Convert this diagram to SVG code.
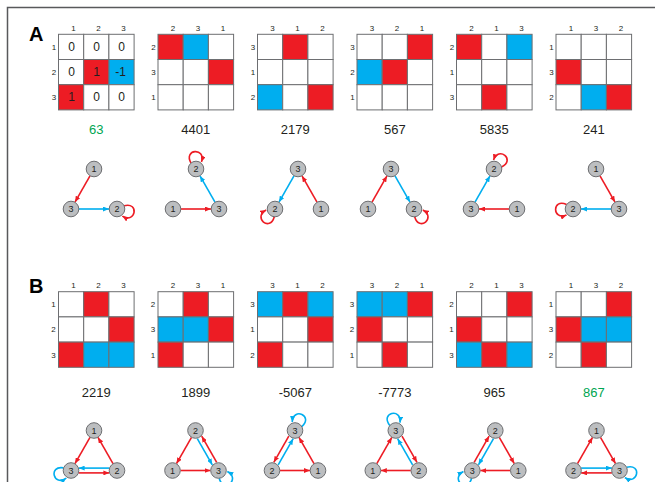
<svg xmlns="http://www.w3.org/2000/svg" xmlns:xlink="http://www.w3.org/1999/xlink" width="655" height="482" viewBox="0 0 655 482">
<style>
.frame{stroke:#58595b;stroke-width:1.5;fill:none}
.cw{fill:#fff;stroke:#6d6e71;stroke-width:1}
.cr{fill:#ED1C24;stroke:#6d6e71;stroke-width:1}
.cb{fill:#00AEEF;stroke:#6d6e71;stroke-width:1}
.lbl{font-family:"Liberation Sans",Arial,sans-serif;font-size:8px;fill:#231f20;text-anchor:middle}
.val{font-family:"Liberation Sans",Arial,sans-serif;font-size:12px;fill:#231f20;text-anchor:middle}
.num{font-family:"Liberation Sans",Arial,sans-serif;font-size:13px;fill:#231f20;text-anchor:middle}
.green{fill:#00A651}
.panel{font-family:"Liberation Sans",Arial,sans-serif;font-size:20px;font-weight:bold;fill:#000}
.node circle{fill:#BCBEC0;stroke:#6d6e71;stroke-width:1}
.node text{font-family:"Liberation Sans",Arial,sans-serif;font-size:9px;fill:#231f20;text-anchor:middle}
.er{fill:none;stroke:#ED1C24;stroke-width:1.6;marker-end:url(#ar)}
.eb{fill:none;stroke:#00AEEF;stroke-width:1.6;marker-end:url(#ab)}
</style>
<defs>
<marker id="ar" markerUnits="userSpaceOnUse" markerWidth="6" markerHeight="5" refX="6" refY="2.5" orient="auto"><path d="M0,0 L6,2.5 L0,5 z" fill="#ED1C24"/></marker>
<marker id="ab" markerUnits="userSpaceOnUse" markerWidth="6" markerHeight="5" refX="6" refY="2.5" orient="auto"><path d="M0,0 L6,2.5 L0,5 z" fill="#00AEEF"/></marker>
</defs>
<path class="frame" d="M7.5,482 L7.5,7.5 L655,7.5"/>
<text class="panel" x="29" y="41">A</text>
<text class="panel" x="29" y="293">B</text>

<!-- Panel A matrices -->
<g id="matA1" transform="translate(58.5,34.3)">
<rect class="cw" x="0" y="0" width="25.2" height="25.2"/><rect class="cw" x="25.2" y="0" width="25.2" height="25.2"/><rect class="cw" x="50.4" y="0" width="25.2" height="25.2"/>
<rect class="cw" x="0" y="25.2" width="25.2" height="25.2"/><rect class="cr" x="25.2" y="25.2" width="25.2" height="25.2"/><rect class="cb" x="50.4" y="25.2" width="25.2" height="25.2"/>
<rect class="cr" x="0" y="50.4" width="25.2" height="25.2"/><rect class="cw" x="25.2" y="50.4" width="25.2" height="25.2"/><rect class="cw" x="50.4" y="50.4" width="25.2" height="25.2"/>
<text class="val" x="13" y="17">0</text><text class="val" x="38" y="17">0</text><text class="val" x="63" y="17">0</text>
<text class="val" x="13" y="42">0</text><text class="val" x="38" y="42">1</text><text class="val" x="62" y="42">-1</text>
<text class="val" x="13" y="67">1</text><text class="val" x="38" y="67">0</text><text class="val" x="63" y="67">0</text>
<text class="lbl" x="15" y="-3">1</text><text class="lbl" x="40" y="-3">2</text><text class="lbl" x="65" y="-3">3</text>
<text class="lbl" x="-4.5" y="15.5">1</text><text class="lbl" x="-4.5" y="40.7">2</text><text class="lbl" x="-4.5" y="65.9">3</text>
</g>
<g id="matA2" transform="translate(158,34.3)">
<rect class="cr" x="0" y="0" width="25.2" height="25.2"/><rect class="cb" x="25.2" y="0" width="25.2" height="25.2"/><rect class="cw" x="50.4" y="0" width="25.2" height="25.2"/>
<rect class="cw" x="0" y="25.2" width="25.2" height="25.2"/><rect class="cw" x="25.2" y="25.2" width="25.2" height="25.2"/><rect class="cr" x="50.4" y="25.2" width="25.2" height="25.2"/>
<rect class="cw" x="0" y="50.4" width="25.2" height="25.2"/><rect class="cw" x="25.2" y="50.4" width="25.2" height="25.2"/><rect class="cw" x="50.4" y="50.4" width="25.2" height="25.2"/>
<text class="lbl" x="15" y="-3">2</text><text class="lbl" x="40" y="-3">3</text><text class="lbl" x="65" y="-3">1</text>
<text class="lbl" x="-4.5" y="15.5">2</text><text class="lbl" x="-4.5" y="40.7">3</text><text class="lbl" x="-4.5" y="65.9">1</text>
</g>
<g id="matA3" transform="translate(257.5,34.3)">
<rect class="cw" x="0" y="0" width="25.2" height="25.2"/><rect class="cr" x="25.2" y="0" width="25.2" height="25.2"/><rect class="cw" x="50.4" y="0" width="25.2" height="25.2"/>
<rect class="cw" x="0" y="25.2" width="25.2" height="25.2"/><rect class="cw" x="25.2" y="25.2" width="25.2" height="25.2"/><rect class="cw" x="50.4" y="25.2" width="25.2" height="25.2"/>
<rect class="cb" x="0" y="50.4" width="25.2" height="25.2"/><rect class="cw" x="25.2" y="50.4" width="25.2" height="25.2"/><rect class="cr" x="50.4" y="50.4" width="25.2" height="25.2"/>
<text class="lbl" x="15" y="-3">3</text><text class="lbl" x="40" y="-3">1</text><text class="lbl" x="65" y="-3">2</text>
<text class="lbl" x="-4.5" y="15.5">3</text><text class="lbl" x="-4.5" y="40.7">1</text><text class="lbl" x="-4.5" y="65.9">2</text>
</g>
<g id="matA4" transform="translate(357,34.3)">
<rect class="cw" x="0" y="0" width="25.2" height="25.2"/><rect class="cw" x="25.2" y="0" width="25.2" height="25.2"/><rect class="cr" x="50.4" y="0" width="25.2" height="25.2"/>
<rect class="cb" x="0" y="25.2" width="25.2" height="25.2"/><rect class="cr" x="25.2" y="25.2" width="25.2" height="25.2"/><rect class="cw" x="50.4" y="25.2" width="25.2" height="25.2"/>
<rect class="cw" x="0" y="50.4" width="25.2" height="25.2"/><rect class="cw" x="25.2" y="50.4" width="25.2" height="25.2"/><rect class="cw" x="50.4" y="50.4" width="25.2" height="25.2"/>
<text class="lbl" x="15" y="-3">3</text><text class="lbl" x="40" y="-3">2</text><text class="lbl" x="65" y="-3">1</text>
<text class="lbl" x="-4.5" y="15.5">3</text><text class="lbl" x="-4.5" y="40.7">2</text><text class="lbl" x="-4.5" y="65.9">1</text>
</g>
<g id="matA5" transform="translate(456.5,34.3)">
<rect class="cr" x="0" y="0" width="25.2" height="25.2"/><rect class="cw" x="25.2" y="0" width="25.2" height="25.2"/><rect class="cb" x="50.4" y="0" width="25.2" height="25.2"/>
<rect class="cw" x="0" y="25.2" width="25.2" height="25.2"/><rect class="cw" x="25.2" y="25.2" width="25.2" height="25.2"/><rect class="cw" x="50.4" y="25.2" width="25.2" height="25.2"/>
<rect class="cw" x="0" y="50.4" width="25.2" height="25.2"/><rect class="cr" x="25.2" y="50.4" width="25.2" height="25.2"/><rect class="cw" x="50.4" y="50.4" width="25.2" height="25.2"/>
<text class="lbl" x="15" y="-3">2</text><text class="lbl" x="40" y="-3">1</text><text class="lbl" x="65" y="-3">3</text>
<text class="lbl" x="-4.5" y="15.5">2</text><text class="lbl" x="-4.5" y="40.7">1</text><text class="lbl" x="-4.5" y="65.9">3</text>
</g>
<g id="matA6" transform="translate(556,34.3)">
<rect class="cw" x="0" y="0" width="25.2" height="25.2"/><rect class="cw" x="25.2" y="0" width="25.2" height="25.2"/><rect class="cw" x="50.4" y="0" width="25.2" height="25.2"/>
<rect class="cr" x="0" y="25.2" width="25.2" height="25.2"/><rect class="cw" x="25.2" y="25.2" width="25.2" height="25.2"/><rect class="cw" x="50.4" y="25.2" width="25.2" height="25.2"/>
<rect class="cw" x="0" y="50.4" width="25.2" height="25.2"/><rect class="cb" x="25.2" y="50.4" width="25.2" height="25.2"/><rect class="cr" x="50.4" y="50.4" width="25.2" height="25.2"/>
<text class="lbl" x="15" y="-3">1</text><text class="lbl" x="40" y="-3">3</text><text class="lbl" x="65" y="-3">2</text>
<text class="lbl" x="-4.5" y="15.5">1</text><text class="lbl" x="-4.5" y="40.7">3</text><text class="lbl" x="-4.5" y="65.9">2</text>
</g>
<g id="numsA">
<text class="num green" x="96.3" y="134">63</text>
<text class="num" x="195.8" y="134">4401</text>
<text class="num" x="295.3" y="134">2179</text>
<text class="num" x="394.8" y="134">567</text>
<text class="num" x="494.3" y="134">5835</text>
<text class="num" x="593.8" y="134">241</text>
</g>

<!-- Panel B matrices -->
<g id="matB1" transform="translate(58.5,291.7)">
<rect class="cw" x="0" y="0" width="25.2" height="25.2"/><rect class="cr" x="25.2" y="0" width="25.2" height="25.2"/><rect class="cw" x="50.4" y="0" width="25.2" height="25.2"/>
<rect class="cw" x="0" y="25.2" width="25.2" height="25.2"/><rect class="cw" x="25.2" y="25.2" width="25.2" height="25.2"/><rect class="cr" x="50.4" y="25.2" width="25.2" height="25.2"/>
<rect class="cr" x="0" y="50.4" width="25.2" height="25.2"/><rect class="cb" x="25.2" y="50.4" width="25.2" height="25.2"/><rect class="cb" x="50.4" y="50.4" width="25.2" height="25.2"/>
<text class="lbl" x="15" y="-4">1</text><text class="lbl" x="40" y="-4">2</text><text class="lbl" x="65" y="-4">3</text>
<text class="lbl" x="-5" y="15.5">1</text><text class="lbl" x="-5" y="40.7">2</text><text class="lbl" x="-5" y="65.9">3</text>
</g>
<g id="matB2" transform="translate(158,291.7)">
<rect class="cw" x="0" y="0" width="25.2" height="25.2"/><rect class="cr" x="25.2" y="0" width="25.2" height="25.2"/><rect class="cw" x="50.4" y="0" width="25.2" height="25.2"/>
<rect class="cb" x="0" y="25.2" width="25.2" height="25.2"/><rect class="cb" x="25.2" y="25.2" width="25.2" height="25.2"/><rect class="cr" x="50.4" y="25.2" width="25.2" height="25.2"/>
<rect class="cr" x="0" y="50.4" width="25.2" height="25.2"/><rect class="cw" x="25.2" y="50.4" width="25.2" height="25.2"/><rect class="cw" x="50.4" y="50.4" width="25.2" height="25.2"/>
<text class="lbl" x="15" y="-4">2</text><text class="lbl" x="40" y="-4">3</text><text class="lbl" x="65" y="-4">1</text>
<text class="lbl" x="-5" y="15.5">2</text><text class="lbl" x="-5" y="40.7">3</text><text class="lbl" x="-5" y="65.9">1</text>
</g>
<g id="matB3" transform="translate(257.5,291.7)">
<rect class="cb" x="0" y="0" width="25.2" height="25.2"/><rect class="cr" x="25.2" y="0" width="25.2" height="25.2"/><rect class="cb" x="50.4" y="0" width="25.2" height="25.2"/>
<rect class="cw" x="0" y="25.2" width="25.2" height="25.2"/><rect class="cw" x="25.2" y="25.2" width="25.2" height="25.2"/><rect class="cr" x="50.4" y="25.2" width="25.2" height="25.2"/>
<rect class="cr" x="0" y="50.4" width="25.2" height="25.2"/><rect class="cw" x="25.2" y="50.4" width="25.2" height="25.2"/><rect class="cw" x="50.4" y="50.4" width="25.2" height="25.2"/>
<text class="lbl" x="15" y="-4">3</text><text class="lbl" x="40" y="-4">1</text><text class="lbl" x="65" y="-4">2</text>
<text class="lbl" x="-5" y="15.5">3</text><text class="lbl" x="-5" y="40.7">1</text><text class="lbl" x="-5" y="65.9">2</text>
</g>
<g id="matB4" transform="translate(357,291.7)">
<rect class="cb" x="0" y="0" width="25.2" height="25.2"/><rect class="cb" x="25.2" y="0" width="25.2" height="25.2"/><rect class="cr" x="50.4" y="0" width="25.2" height="25.2"/>
<rect class="cr" x="0" y="25.2" width="25.2" height="25.2"/><rect class="cw" x="25.2" y="25.2" width="25.2" height="25.2"/><rect class="cw" x="50.4" y="25.2" width="25.2" height="25.2"/>
<rect class="cw" x="0" y="50.4" width="25.2" height="25.2"/><rect class="cr" x="25.2" y="50.4" width="25.2" height="25.2"/><rect class="cw" x="50.4" y="50.4" width="25.2" height="25.2"/>
<text class="lbl" x="15" y="-4">3</text><text class="lbl" x="40" y="-4">2</text><text class="lbl" x="65" y="-4">1</text>
<text class="lbl" x="-5" y="15.5">3</text><text class="lbl" x="-5" y="40.7">2</text><text class="lbl" x="-5" y="65.9">1</text>
</g>
<g id="matB5" transform="translate(456.5,291.7)">
<rect class="cw" x="0" y="0" width="25.2" height="25.2"/><rect class="cw" x="25.2" y="0" width="25.2" height="25.2"/><rect class="cr" x="50.4" y="0" width="25.2" height="25.2"/>
<rect class="cr" x="0" y="25.2" width="25.2" height="25.2"/><rect class="cw" x="25.2" y="25.2" width="25.2" height="25.2"/><rect class="cw" x="50.4" y="25.2" width="25.2" height="25.2"/>
<rect class="cb" x="0" y="50.4" width="25.2" height="25.2"/><rect class="cr" x="25.2" y="50.4" width="25.2" height="25.2"/><rect class="cb" x="50.4" y="50.4" width="25.2" height="25.2"/>
<text class="lbl" x="15" y="-4">2</text><text class="lbl" x="40" y="-4">1</text><text class="lbl" x="65" y="-4">3</text>
<text class="lbl" x="-5" y="15.5">2</text><text class="lbl" x="-5" y="40.7">1</text><text class="lbl" x="-5" y="65.9">3</text>
</g>
<g id="matB6" transform="translate(556,291.7)">
<rect class="cw" x="0" y="0" width="25.2" height="25.2"/><rect class="cw" x="25.2" y="0" width="25.2" height="25.2"/><rect class="cr" x="50.4" y="0" width="25.2" height="25.2"/>
<rect class="cr" x="0" y="25.2" width="25.2" height="25.2"/><rect class="cb" x="25.2" y="25.2" width="25.2" height="25.2"/><rect class="cb" x="50.4" y="25.2" width="25.2" height="25.2"/>
<rect class="cw" x="0" y="50.4" width="25.2" height="25.2"/><rect class="cr" x="25.2" y="50.4" width="25.2" height="25.2"/><rect class="cw" x="50.4" y="50.4" width="25.2" height="25.2"/>
<text class="lbl" x="15" y="-4">1</text><text class="lbl" x="40" y="-4">3</text><text class="lbl" x="65" y="-4">2</text>
<text class="lbl" x="-5" y="15.5">1</text><text class="lbl" x="-5" y="40.7">3</text><text class="lbl" x="-5" y="65.9">2</text>
</g>
<g id="numsB">
<text class="num" x="96.3" y="396.5">2219</text>
<text class="num" x="195.8" y="396.5">1899</text>
<text class="num" x="295.3" y="396.5">-5067</text>
<text class="num" x="394.8" y="396.5">-7773</text>
<text class="num" x="494.3" y="396.5">965</text>
<text class="num green" x="593.8" y="396.5">867</text>
</g>

<!-- Panel A graphs -->
<g id="graphA1" transform="translate(94,189)">
<g class="connectors">
<path class="er" d="M-4,-13.1 L-19,13.1"/>
<path class="eb" d="M-15,20 L15,20"/>
<path class="er" d="M6,-5 C20,-13 22,10 7,5.5" transform="translate(23,20) rotate(15)"/>
</g>
<g id="a1-n1" class="node"><circle cx="0" cy="-20" r="7.8"/><text x="0" y="-16.8">1</text></g>
<g id="a1-n3" class="node"><circle cx="-23" cy="20" r="7.8"/><text x="-23" y="23.2">3</text></g>
<g id="a1-n2" class="node"><circle cx="23" cy="20" r="7.8"/><text x="23" y="23.2">2</text></g>
</g>
<g id="graphA2" transform="translate(196,189)">
<g class="connectors">
<path class="er" d="M-15,20 L15,20"/>
<path class="eb" d="M19,13.1 L4,-13.1"/>
<path class="er" d="M6,-5 C20,-13 22,10 7,5.5" transform="translate(0,-20) rotate(-90)"/>
</g>
<g id="a2-n2" class="node"><circle cx="0" cy="-20" r="7.8"/><text x="0" y="-16.8">2</text></g>
<g id="a2-n1" class="node"><circle cx="-23" cy="20" r="7.8"/><text x="-23" y="23.2">1</text></g>
<g id="a2-n3" class="node"><circle cx="23" cy="20" r="7.8"/><text x="23" y="23.2">3</text></g>
</g>
<g id="graphA3" transform="translate(298,189)">
<g class="connectors">
<path class="er" d="M19,13.1 L4,-13.1"/>
<path class="eb" d="M-4,-13.1 L-19,13.1"/>
<path class="er" d="M6,-5 C20,-13 22,10 7,5.5" transform="translate(-23,20) rotate(135)"/>
</g>
<g id="a3-n3" class="node"><circle cx="0" cy="-20" r="7.8"/><text x="0" y="-16.8">3</text></g>
<g id="a3-n2" class="node"><circle cx="-23" cy="20" r="7.8"/><text x="-23" y="23.2">2</text></g>
<g id="a3-n1" class="node"><circle cx="23" cy="20" r="7.8"/><text x="23" y="23.2">1</text></g>
</g>
<g id="graphA4" transform="translate(391,189)">
<g class="connectors">
<path class="er" d="M-19,13.1 L-4,-13.1"/>
<path class="eb" d="M4,-13.1 L19,13.1"/>
<path class="er" d="M6,5 C20,13 22,-10 7,-5.5" transform="translate(23,20) rotate(45)"/>
</g>
<g id="a4-n3" class="node"><circle cx="0" cy="-20" r="7.8"/><text x="0" y="-16.8">3</text></g>
<g id="a4-n1" class="node"><circle cx="-23" cy="20" r="7.8"/><text x="-23" y="23.2">1</text></g>
<g id="a4-n2" class="node"><circle cx="23" cy="20" r="7.8"/><text x="23" y="23.2">2</text></g>
</g>
<g id="graphA5" transform="translate(494,189)">
<g class="connectors">
<path class="er" d="M15,20 L-15,20"/>
<path class="eb" d="M-19,13.1 L-4,-13.1"/>
<path class="er" d="M6,5 C20,13 22,-10 7,-5.5" transform="translate(0,-20) rotate(-55)"/>
</g>
<g id="a5-n2" class="node"><circle cx="0" cy="-20" r="7.8"/><text x="0" y="-16.8">2</text></g>
<g id="a5-n3" class="node"><circle cx="-23" cy="20" r="7.8"/><text x="-23" y="23.2">3</text></g>
<g id="a5-n1" class="node"><circle cx="23" cy="20" r="7.8"/><text x="23" y="23.2">1</text></g>
</g>
<g id="graphA6" transform="translate(596,189)">
<g class="connectors">
<path class="er" d="M4,-13.1 L19,13.1"/>
<path class="eb" d="M15,20 L-15,20"/>
<path class="er" d="M6,5 C20,13 22,-10 7,-5.5" transform="translate(-23,20) rotate(175)"/>
</g>
<g id="a6-n1" class="node"><circle cx="0" cy="-20" r="7.8"/><text x="0" y="-16.8">1</text></g>
<g id="a6-n2" class="node"><circle cx="-23" cy="20" r="7.8"/><text x="-23" y="23.2">2</text></g>
<g id="a6-n3" class="node"><circle cx="23" cy="20" r="7.8"/><text x="23" y="23.2">3</text></g>
</g>

<!-- Panel B graphs -->
<g id="graphB1" transform="translate(94,450.5)">
<g class="connectors">
<path class="er" d="M19,13.1 L4,-13.1"/>
<path class="er" d="M-4,-13.1 L-19,13.1"/>
<path class="eb" d="M15.4,17.6 L-15.4,17.6"/>
<path class="er" d="M-15.4,22.4 L15.4,22.4"/>
<path class="eb" d="M6,5 C20,13 22,-10 7,-5.5" transform="translate(-23,20) rotate(160)"/>
</g>
<g id="b1-n1" class="node"><circle cx="0" cy="-20" r="7.8"/><text x="0" y="-16.8">1</text></g>
<g id="b1-n3" class="node"><circle cx="-23" cy="20" r="7.8"/><text x="-23" y="23.2">3</text></g>
<g id="b1-n2" class="node"><circle cx="23" cy="20" r="7.8"/><text x="23" y="23.2">2</text></g>
</g>
<g id="graphB2" transform="translate(195.5,450.5)">
<g class="connectors">
<path class="er" d="M-4,-13.1 L-19,13.1"/>
<path class="er" d="M-15,20 L15,20"/>
<path class="er" d="M21.2,11.8 L6.2,-14.3"/>
<path class="eb" d="M1.8,-11.8 L16.8,14.3"/>
<path class="eb" d="M6,5 C20,13 22,-10 7,-5.5" transform="translate(23,20) rotate(45)"/>
</g>
<g id="b2-n2" class="node"><circle cx="0" cy="-20" r="7.8"/><text x="0" y="-16.8">2</text></g>
<g id="b2-n1" class="node"><circle cx="-23" cy="20" r="7.8"/><text x="-23" y="23.2">1</text></g>
<g id="b2-n3" class="node"><circle cx="23" cy="20" r="7.8"/><text x="23" y="23.2">3</text></g>
</g>
<g id="graphB3" transform="translate(295,450.5)">
<g class="connectors">
<path class="er" d="M19,13.1 L4,-13.1"/>
<path class="er" d="M-15,20 L15,20"/>
<path class="er" d="M-6.2,-14.3 L-21.2,11.8"/>
<path class="eb" d="M-16.8,14.3 L-1.8,-11.8"/>
<path class="eb" d="M6,5 C20,13 22,-10 7,-5.5" transform="translate(0,-20) rotate(-70)"/>
</g>
<g id="b3-n3" class="node"><circle cx="0" cy="-20" r="7.8"/><text x="0" y="-16.8">3</text></g>
<g id="b3-n2" class="node"><circle cx="-23" cy="20" r="7.8"/><text x="-23" y="23.2">2</text></g>
<g id="b3-n1" class="node"><circle cx="23" cy="20" r="7.8"/><text x="23" y="23.2">1</text></g>
</g>
<g id="graphB4" transform="translate(395.8,450.5)">
<g class="connectors">
<path class="er" d="M-19,13.1 L-4,-13.1"/>
<path class="er" d="M15,20 L-15,20"/>
<path class="er" d="M6.2,-14.3 L21.2,11.8"/>
<path class="eb" d="M16.8,14.3 L1.8,-11.8"/>
<path class="eb" d="M6,-5 C20,-13 22,10 7,5.5" transform="translate(0,-20) rotate(-100)"/>
</g>
<g id="b4-n3" class="node"><circle cx="0" cy="-20" r="7.8"/><text x="0" y="-16.8">3</text></g>
<g id="b4-n1" class="node"><circle cx="-23" cy="20" r="7.8"/><text x="-23" y="23.2">1</text></g>
<g id="b4-n2" class="node"><circle cx="23" cy="20" r="7.8"/><text x="23" y="23.2">2</text></g>
</g>
<g id="graphB5" transform="translate(495.3,450.5)">
<g class="connectors">
<path class="er" d="M4,-13.1 L19,13.1"/>
<path class="er" d="M15,20 L-15,20"/>
<path class="er" d="M-21.2,11.8 L-6.2,-14.3"/>
<path class="eb" d="M-1.8,-11.8 L-16.8,14.3"/>
<path class="eb" d="M6,-5 C20,-13 22,10 7,5.5" transform="translate(-23,20) rotate(135)"/>
</g>
<g id="b5-n2" class="node"><circle cx="0" cy="-20" r="7.8"/><text x="0" y="-16.8">2</text></g>
<g id="b5-n3" class="node"><circle cx="-23" cy="20" r="7.8"/><text x="-23" y="23.2">3</text></g>
<g id="b5-n1" class="node"><circle cx="23" cy="20" r="7.8"/><text x="23" y="23.2">1</text></g>
</g>
<g id="graphB6" transform="translate(596.5,450.5)">
<g class="connectors">
<path class="er" d="M-19,13.1 L-4,-13.1"/>
<path class="er" d="M4,-13.1 L19,13.1"/>
<path class="eb" d="M-15.4,17.6 L15.4,17.6"/>
<path class="er" d="M15.4,22.4 L-15.4,22.4"/>
<path class="eb" d="M6,-5 C20,-13 22,10 7,5.5" transform="translate(23,20) rotate(15)"/>
</g>
<g id="b6-n1" class="node"><circle cx="0" cy="-20" r="7.8"/><text x="0" y="-16.8">1</text></g>
<g id="b6-n2" class="node"><circle cx="-23" cy="20" r="7.8"/><text x="-23" y="23.2">2</text></g>
<g id="b6-n3" class="node"><circle cx="23" cy="20" r="7.8"/><text x="23" y="23.2">3</text></g>
</g>
</svg>
